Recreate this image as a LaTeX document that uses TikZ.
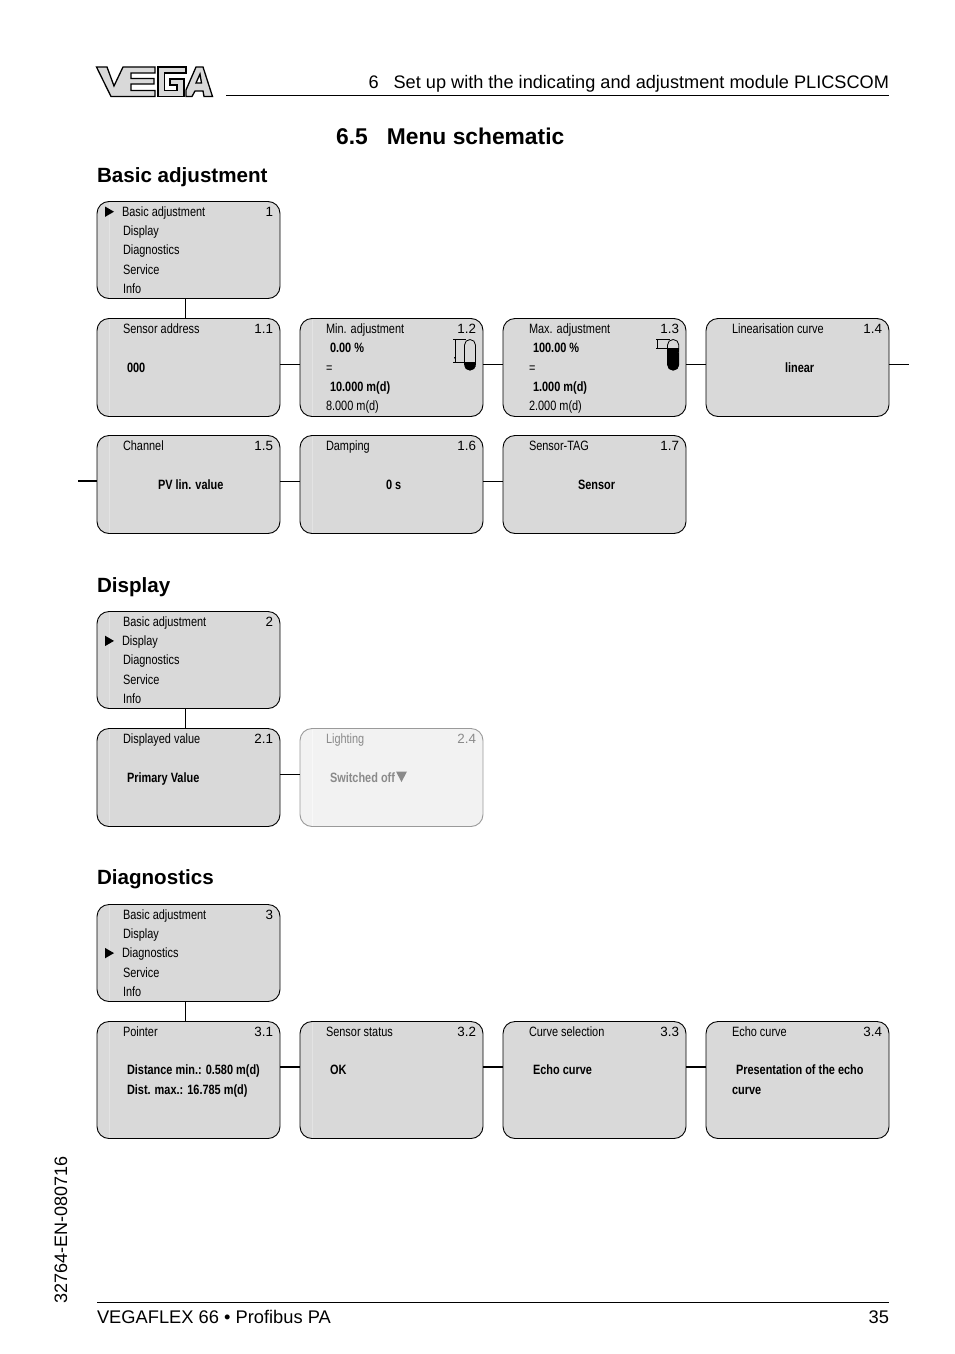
\documentclass[tikz,border=0pt]{standalone}
\usepackage{fontspec}
\setmainfont{Liberation Sans}
\newfontfamily\condf[FakeStretch=0.81]{Liberation Sans}
\newcounter{tx}
\definecolor{panelfill}{HTML}{D9D9D9}
\definecolor{panelstrip}{HTML}{E3E3E3}
\definecolor{fadefill}{HTML}{F2F2F2}
\definecolor{fadestrip}{HTML}{F8F8F8}
\definecolor{fadeline}{HTML}{9A9A9A}
\definecolor{fadetext}{HTML}{8A8A8A}
\tikzset{
  panel/.style={draw=black,line width=0.9pt,fill=panelfill,rounded corners=12pt,anchor=north west,minimum width=183pt,inner sep=0pt,outer sep=0pt},
  fadepanel/.style={panel,draw=fadeline,fill=fadefill},
  link/.style={draw=black,line width=1pt},
  strongl/.style={draw=black,line width=1.7pt},
  strip/.style={draw=panelstrip,line width=1pt},
  lbl/.style={font=\condf\fontsize{13.5}{14}\selectfont,anchor=base west,inner sep=0pt,outer sep=0pt},
  bl/.style={lbl,font=\condf\bfseries\fontsize{13.5}{14}\selectfont},
  num/.style={font=\fontsize{13.4}{14}\selectfont,anchor=base east,inner sep=0pt,outer sep=0pt},
  head/.style={font=\bfseries\fontsize{20.6}{24}\selectfont,anchor=base west,inner sep=0pt,outer sep=0pt},
  page/.style={font=\fontsize{18.3}{22}\selectfont,inner sep=0pt,outer sep=0pt},
  logo/.style={draw=black,line width=1.3pt,fill=panelfill,line join=miter},
}
\newcommand\T[4]{\stepcounter{tx}\node[#1,name=t\thetx] at (#2,#3) {#4};}
\newcommand\stripline[1]{\draw[strip] ([xshift=12pt,yshift=-1pt]#1.north west) -- ([xshift=12pt,yshift=1pt]#1.south west);}
\newcommand\menulist[5]{% x, y top, number, active row (0..4), name
  \node[panel,minimum height=97pt] (#5) at (#1,#2) {};
  \stripline{#5}
  \foreach \r/\s in {0/Basic adjustment,1/Display,2/Diagnostics,3/Service,4/Info}{
    \pgfmathsetmacro\yy{#2+14.8+19.25*\r}
    \pgfmathsetmacro\xx{\r==#4?#1+25:#1+26}
    \T{lbl}{\xx}{\yy}{\s}
  }
  \T{num}{#1+176}{#2+15}{#3}
  \pgfmathsetmacro\ay{#2+10.2+19.2*#4}
  \stepcounter{tx}\fill[black,name=t\thetx] (#1+8,\ay-5.2) -- (#1+17,\ay) -- (#1+8,\ay+5.2) -- cycle;
}
\newcommand\panelbox[6]{% name, x, y, height, title, number
  \node[panel,minimum height=#4pt] (#1) at (#2,#3) {};
  \T{lbl}{#2+26}{#3+15}{#5}
  \T{num}{#2+176}{#3+15}{#6}
}
\begin{document}
\begin{tikzpicture}[x=1pt,y=-1pt]
\useasboundingbox (0,0) rectangle (954,1354);
% logo
\filldraw[logo] (96.5,67) -- (107,67) -- (114,86) -- (123,67) -- (155,67) -- (155,73) -- (131,73) -- (131,78.5) -- (154,78.5) -- (154,84) -- (131,84) -- (131,90.5) -- (155,90.5) -- (155,96.5) -- (111,96.5) -- cycle;
\filldraw[logo] (158,67) -- (186,67) -- (186,73) -- (164.5,73) -- (164.5,90.5) -- (177,90.5) -- (177,85) -- (170,85) -- (170,79) -- (184,79) -- (184,96.5) -- (158,96.5) -- cycle;
\filldraw[logo,even odd rule] (186,96.5) -- (186,90) -- (196,67) -- (203,67) -- (212.5,96.5) -- (204,96.5) -- (203,91) -- (195,91) -- (192,96.5) -- cycle (196,83) -- (201.5,83) -- (200,74) -- cycle;
\stepcounter{tx}\node[page,font=\fontsize{18.15}{22}\selectfont,anchor=base east,name=t\thetx] at (889,88.5) {6\hspace{15pt}Set up with the indicating and adjustment module PLICSCOM};
\coordinate (hrA) at (226,95);\coordinate (hrB) at (889,95);
\draw[link] (hrA) -- (hrB);
\stepcounter{tx}\node[font=\bfseries\fontsize{22.8}{26}\selectfont,anchor=base west,inner sep=0pt,name=t\thetx] at (336,144.5) {6.5\hspace{19pt}Menu schematic};
\T{head}{97}{182.5}{Basic adjustment}
\T{head}{97}{592.5}{Display}
\T{head}{97}{884.5}{Diagnostics}
% Basic adjustment
\menulist{97}{201.5}{1}{0}{m1}
\panelbox{a1}{97}{318.5}{98}{Sensor address}{1.1}
\panelbox{a2}{300}{318.5}{98}{Min. adjustment}{1.2}
\panelbox{a3}{503}{318.5}{98}{Max. adjustment}{1.3}
\panelbox{a4}{706}{318.5}{98}{Linearisation curve}{1.4}
\panelbox{a5}{97}{435.5}{98}{Channel}{1.5}
\panelbox{a6}{300}{435.5}{98}{Damping}{1.6}
\panelbox{a7}{503}{435.5}{98}{Sensor-TAG}{1.7}
\foreach \n in {a1,a2,a5,a6}{\stripline{\n}}
\T{bl}{127}{372}{000}
\T{bl}{330}{352}{0.00 \%}
\T{lbl}{326}{372}{=}
\T{bl}{330}{391}{10.000 m(d)}
\T{lbl}{326}{410}{8.000 m(d)}
\T{bl}{533}{352}{100.00 \%}
\T{lbl}{529}{372}{=}
\T{bl}{533}{391}{1.000 m(d)}
\T{lbl}{529}{410}{2.000 m(d)}
\T{bl}{785}{372}{linear}
\T{bl}{158}{489}{PV lin. value}
\T{bl}{386}{489}{0 s}
\T{bl}{578}{489}{Sensor}
\coordinate (s4) at (909,364.5);\coordinate (s5) at (78,481);
\coordinate (v1) at (185.5,298.5);\coordinate (v1b) at (185.5,318.5);
\draw[link] (v1) -- (v1b);
\draw[link] (a1.east |- s4) -- (a2.west |- s4);
\draw[link] (a2.east |- s4) -- (a3.west |- s4);
\draw[link] (a3.east |- s4) -- (a4.west |- s4);
\draw[link] (a4.east |- s4) -- (s4);
\draw[strongl] (s5) -- (a5.west |- s5);
\draw[link] (a5.east |- s5) -- (a6.west |- s5);
\draw[link] (a6.east |- s5) -- (a7.west |- s5);
% tank icons
\draw[line width=0.8pt,fill=panelfill,rounded corners=5.5pt] (464.5,339.5) rectangle (475.5,370);
\fill[black,rounded corners=5pt] (464.5,362) rectangle (475.5,370.4);
\fill[black] (464.5,362) rectangle (475.5,365);
\draw[line width=0.7pt] (453,339.5) -- (466,339.5) (455,339.5) -- (455,362.3) (453,362.3) -- (475.5,362.3);
\fill[black] (454,357) -- (456,357) -- (455,359.5) -- cycle;
\draw[line width=0.8pt,fill=panelfill,rounded corners=5.5pt] (667.5,339.5) rectangle (678.8,370);
\fill[black,rounded corners=5pt] (667.5,348) rectangle (678.8,370.4);
\fill[black] (667.5,348) rectangle (678.8,352);
\draw[line width=0.7pt] (656,339.5) -- (670,339.5) (657.7,339.5) -- (657.7,348.3) (656,348.3) -- (678.8,348.3);
% Display
\menulist{97}{611.5}{2}{1}{m2}
\panelbox{b1}{97}{728.5}{98}{Displayed value}{2.1}
\stripline{b1}
\T{bl}{127}{782}{Primary Value}
\node[fadepanel,minimum height=98pt] (b2) at (300,728.5) {};
\draw[strip,draw=fadestrip] ([xshift=12pt,yshift=-1pt]b2.north west) -- ([xshift=12pt,yshift=1pt]b2.south west);
\T{lbl,text=fadetext}{326}{743}{Lighting}
\T{num,text=fadetext}{476}{743}{2.4}
\T{bl,text=fadetext}{330}{782}{Switched off}
\stepcounter{tx}\fill[fadetext,name=t\thetx] (396,771.5) -- (407,771.5) -- (401.5,782) -- cycle;
\coordinate (v2) at (185.5,708.5);\coordinate (v2b) at (185.5,728.5);
\coordinate (r2) at (290,774);
\draw[link] (v2) -- (v2b);
\draw[link] (b1.east |- r2) -- (b2.west |- r2);
% Diagnostics
\menulist{97}{904.5}{3}{2}{m3}
\panelbox{c1}{97}{1021.5}{117}{Pointer}{3.1}
\panelbox{c2}{300}{1021.5}{117}{Sensor status}{3.2}
\panelbox{c3}{503}{1021.5}{117}{Curve selection}{3.3}
\panelbox{c4}{706}{1021.5}{117}{Echo curve}{3.4}
\foreach \n in {c1,c2}{\stripline{\n}}
\T{bl}{127}{1074}{Distance min.: 0.580 m(d)}
\T{bl}{127}{1094}{Dist. max.: 16.785 m(d)}
\T{bl}{330}{1074}{OK}
\T{bl}{533}{1074}{Echo curve}
\T{bl}{736}{1074}{Presentation of the echo}
\T{bl}{732}{1094}{curve}
\coordinate (v3) at (185.5,1001.5);\coordinate (v3b) at (185.5,1021.5);
\draw[link] (v3) -- (v3b);
\coordinate (r3) at (290,1067);
\draw[strongl] (c1.east |- r3) -- (c2.west |- r3);
\draw[strongl] (c2.east |- r3) -- (c3.west |- r3);
\draw[strongl] (c3.east |- r3) -- (c4.west |- r3);
% footer
\coordinate (fA) at (97,1302);\coordinate (fB) at (889,1302);
\draw[link] (fA) -- (fB);
\stepcounter{tx}\node[page,anchor=base west,name=t\thetx] at (97,1323) {VEGAFLEX 66 • Profibus PA};
\stepcounter{tx}\node[page,anchor=base east,name=t\thetx] at (889,1323) {35};
\stepcounter{tx}\node[font=\fontsize{18}{20}\selectfont,inner sep=0pt,rotate=90,anchor=base west,name=t\thetx] at (67,1304) {32764-EN-080716};
\end{tikzpicture}
\end{document}
